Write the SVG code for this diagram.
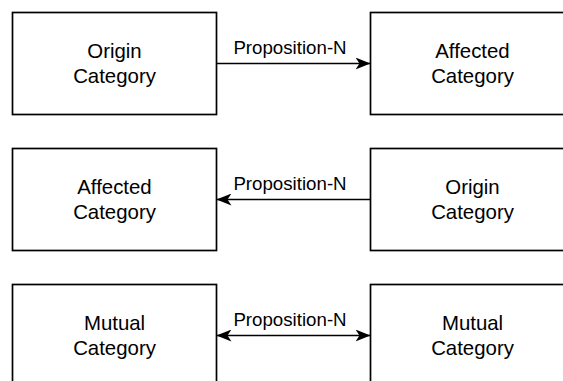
<svg xmlns="http://www.w3.org/2000/svg" width="563" height="381" viewBox="0 0 563 381">
<style>
.box{fill:#fff;stroke:#000;stroke-width:1.7}
.t{font-family:"Liberation Sans",Arial,sans-serif;font-size:20.4px;fill:#000;text-anchor:middle}
.l{font-family:"Liberation Sans",Arial,sans-serif;font-size:18.7px;fill:#000;text-anchor:middle}
.e{stroke:#000;stroke-width:1.7;fill:none}
</style>
<defs>
<marker id="ah" viewBox="0 0 15 12" refX="15" refY="6" markerWidth="15" markerHeight="12" markerUnits="userSpaceOnUse" orient="auto-start-reverse">
<path d="M0,0 L15,6 L0,12 L4,6 Z" fill="#000"/>
</marker>
</defs>
<rect width="563" height="381" fill="#fff"/>
<g id="n1"><rect class="box" x="12.5" y="12.5" width="204" height="102"/><text class="t" x="114.5" y="58">Origin</text><text class="t" x="114.5" y="82.5">Category</text></g>
<g id="n2"><rect class="box" x="370.5" y="12.5" width="204" height="102"/><text class="t" x="472.5" y="58">Affected</text><text class="t" x="472.5" y="82.5">Category</text></g>
<g id="n3"><rect class="box" x="12.5" y="148.5" width="204" height="102"/><text class="t" x="114.5" y="194">Affected</text><text class="t" x="114.5" y="218.5">Category</text></g>
<g id="n4"><rect class="box" x="370.5" y="148.5" width="204" height="102"/><text class="t" x="472.5" y="194">Origin</text><text class="t" x="472.5" y="218.5">Category</text></g>
<g id="n5"><rect class="box" x="12.5" y="284.5" width="204" height="102"/><text class="t" x="114.5" y="330">Mutual</text><text class="t" x="114.5" y="354.5">Category</text></g>
<g id="n6"><rect class="box" x="370.5" y="284.5" width="204" height="102"/><text class="t" x="472.5" y="330">Mutual</text><text class="t" x="472.5" y="354.5">Category</text></g>
<g id="edges">
<path class="e" d="M216.5,63.5 H370.5" marker-end="url(#ah)"/>
<text class="l" x="290" y="54">Proposition-N</text>
<path class="e" d="M370.5,199.5 H216.5" marker-end="url(#ah)"/>
<text class="l" x="290" y="190">Proposition-N</text>
<path class="e" d="M216.5,335.5 H370.5" marker-start="url(#ah)" marker-end="url(#ah)"/>
<text class="l" x="290" y="326">Proposition-N</text>
</g>
</svg>
